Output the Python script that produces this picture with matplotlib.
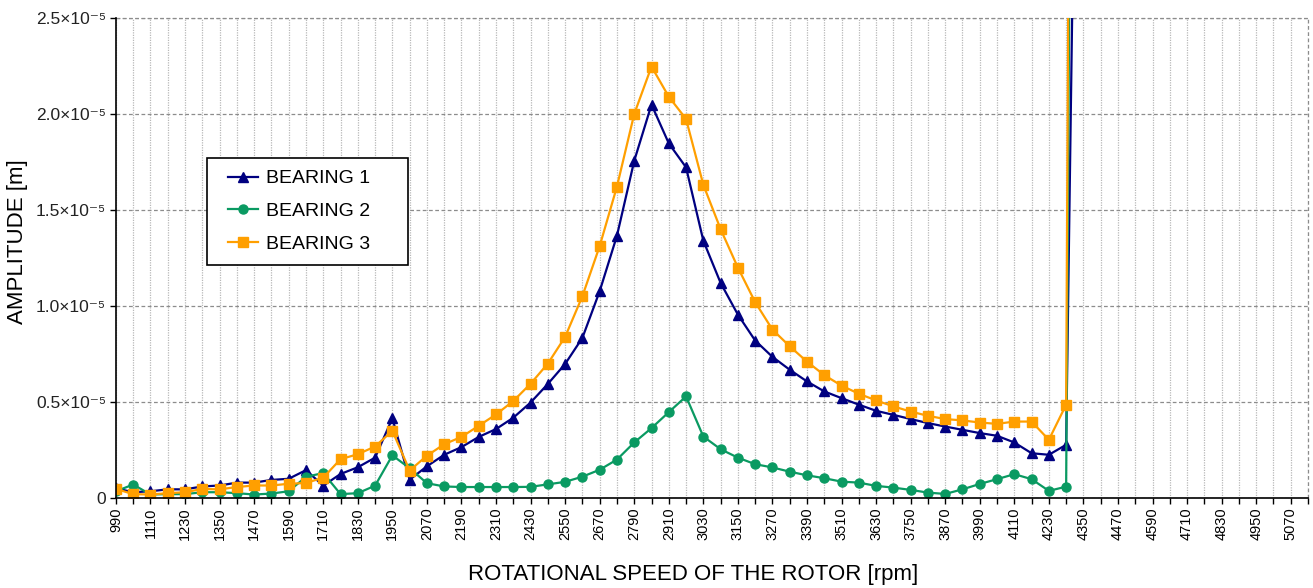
import matplotlib
matplotlib.use("Agg")
import matplotlib.pyplot as plt
from matplotlib.ticker import FixedLocator, MultipleLocator
from matplotlib.lines import Line2D
from matplotlib.legend_handler import HandlerLine2D

plt.rcParams['font.family'] = ['Liberation Sans', 'DejaVu Sans']

rpm = [990, 1050, 1110, 1170, 1230, 1290, 1350, 1410, 1470, 1530,
       1590, 1650, 1710, 1770, 1830, 1890, 1950, 2010, 2070, 2130,
       2190, 2250, 2310, 2370, 2430, 2490, 2550, 2610, 2670, 2730,
       2790, 2850, 2910, 2970, 3030, 3090, 3150, 3210, 3270, 3330,
       3390, 3450, 3510, 3570, 3630, 3690, 3750, 3810, 3870, 3930,
       3990, 4050, 4110, 4170, 4230, 4290, 4350]

# amplitudes in units of 1e-5 m
bearing1 = [0.05, 0.03, 0.035, 0.045, 0.045, 0.06, 0.065, 0.08, 0.08, 0.094,
            0.10, 0.145, 0.064, 0.125, 0.16, 0.21, 0.415, 0.095, 0.165, 0.225,
            0.265, 0.318, 0.359, 0.418, 0.497, 0.594, 0.698, 0.834, 1.077, 1.366,
            1.756, 2.049, 1.847, 1.722, 1.34, 1.12, 0.955, 0.82, 0.735, 0.668,
            0.607, 0.555, 0.52, 0.486, 0.454, 0.433, 0.411, 0.39, 0.372, 0.355,
            0.338, 0.324, 0.289, 0.233, 0.225, 0.277, 6.7]
bearing2 = [0.035, 0.07, 0.018, 0.02, 0.02, 0.03, 0.03, 0.025, 0.018, 0.023,
            0.035, 0.11, 0.13, 0.02, 0.025, 0.064, 0.222, 0.155, 0.077, 0.06,
            0.057, 0.057, 0.057, 0.057, 0.058, 0.071, 0.084, 0.111, 0.147, 0.2,
            0.289, 0.364, 0.447, 0.529, 0.32, 0.254, 0.21, 0.176, 0.159, 0.137,
            0.118, 0.103, 0.085, 0.08, 0.063, 0.054, 0.042, 0.028, 0.021, 0.045,
            0.073, 0.098, 0.124, 0.098, 0.037, 0.059, 14.1]
bearing3 = [0.047, 0.02, 0.018, 0.025, 0.03, 0.047, 0.045, 0.057, 0.065, 0.065,
            0.074, 0.078, 0.106, 0.202, 0.228, 0.268, 0.35, 0.143, 0.22, 0.28,
            0.318, 0.376, 0.435, 0.505, 0.595, 0.70, 0.839, 1.051, 1.312, 1.622,
            2.0, 2.247, 2.09, 1.974, 1.631, 1.40, 1.20, 1.02, 0.877, 0.79,
            0.71, 0.64, 0.585, 0.543, 0.508, 0.477, 0.45, 0.428, 0.411, 0.404,
            0.393, 0.386, 0.398, 0.398, 0.303, 0.486, 17.9]

series_labels = ["BEARING 1", "BEARING 2", "BEARING 3"]
y_ticks = [0, 0.5e-5, 1.0e-5, 1.5e-5, 2.0e-5, 2.5e-5]
y_tick_labels = ["0", "0.5×10⁻⁵", "1.0×10⁻⁵", "1.5×10⁻⁵", "2.0×10⁻⁵", "2.5×10⁻⁵"]
x_tick_labels = [990, 1110, 1230, 1350, 1470, 1590, 1710, 1830, 1950, 2070,
                 2190, 2310, 2430, 2550, 2670, 2790, 2910, 3030, 3150, 3270,
                 3390, 3510, 3630, 3750, 3870, 3990, 4110, 4230, 4350, 4470,
                 4590, 4710, 4830, 4950, 5070]

fig = plt.figure(figsize=(13.13, 5.88), dpi=100)
ax = fig.add_axes([0.0883, 0.1531, 0.9079, 0.8163])

s = 1e-5
ax.plot(rpm, [v * s for v in bearing1], color='#000080', lw=1.6,
        marker='^', ms=7.5, label=series_labels[0])
ax.plot(rpm, [v * s for v in bearing2], color='#0a9a62', lw=1.6,
        marker='o', ms=6.5, label=series_labels[1])
ax.plot(rpm, [v * s for v in bearing3], color='#ff9f00', lw=1.6,
        marker='s', ms=7, label=series_labels[2])

ax.set_xlim(990, 5130)
ax.set_ylim(0, 2.5e-5)

ax.set_xticks(x_tick_labels)
ax.set_xticklabels([str(v) for v in x_tick_labels], rotation=90, fontsize=10.5)
ax.xaxis.set_minor_locator(MultipleLocator(60, offset=30))
ax.set_yticks(y_ticks)
ax.set_yticklabels(y_tick_labels, fontsize=12.5, color='#222222')

ax.tick_params(axis='x', which='both', direction='out', length=4, width=1, pad=3)
ax.tick_params(axis='y', which='both', direction='out', length=4, width=1, pad=3)

ax.grid(axis='x', which='both', color='#b8b8b8', linestyle=(0, (1, 1)), lw=0.9)
ax.grid(axis='y', which='major', color='#8c8c8c', linestyle=(0, (3, 2)), lw=0.9)
ax.set_axisbelow(True)

for side in ['top', 'right']:
    ax.spines[side].set_visible(False)
ax.spines['left'].set_linewidth(1.2)
ax.spines['bottom'].set_linewidth(1.2)
ax.axhline(2.5e-5, color='#8c8c8c', linestyle=(0, (3, 2)), lw=0.9, clip_on=False, zorder=0)
ax.axvline(5130, color='#8c8c8c', linestyle=(0, (3, 2)), lw=0.9, clip_on=False, zorder=0)

ax.set_xlabel("ROTATIONAL SPEED OF THE ROTOR [rpm]", fontsize=16)
ax.xaxis.set_label_coords(0.484, -0.138)
ax.set_ylabel("AMPLITUDE [m]", fontsize=16)
ax.yaxis.set_label_coords(-0.074, 0.535)

leg = ax.legend(loc='upper left', bbox_to_anchor=(0.0763, 0.708, 0.1686, 0.0),
                mode='expand', borderaxespad=0,
                fontsize=14, frameon=True, fancybox=False, edgecolor='black',
                framealpha=1, handlelength=2.05, handletextpad=0.4,
                labelspacing=0.78, borderpad=0.6,
                handler_map={Line2D: HandlerLine2D(xpad=0.5)})
leg.get_frame().set_linewidth(1.2)

fig.savefig("out.png", dpi=100)
